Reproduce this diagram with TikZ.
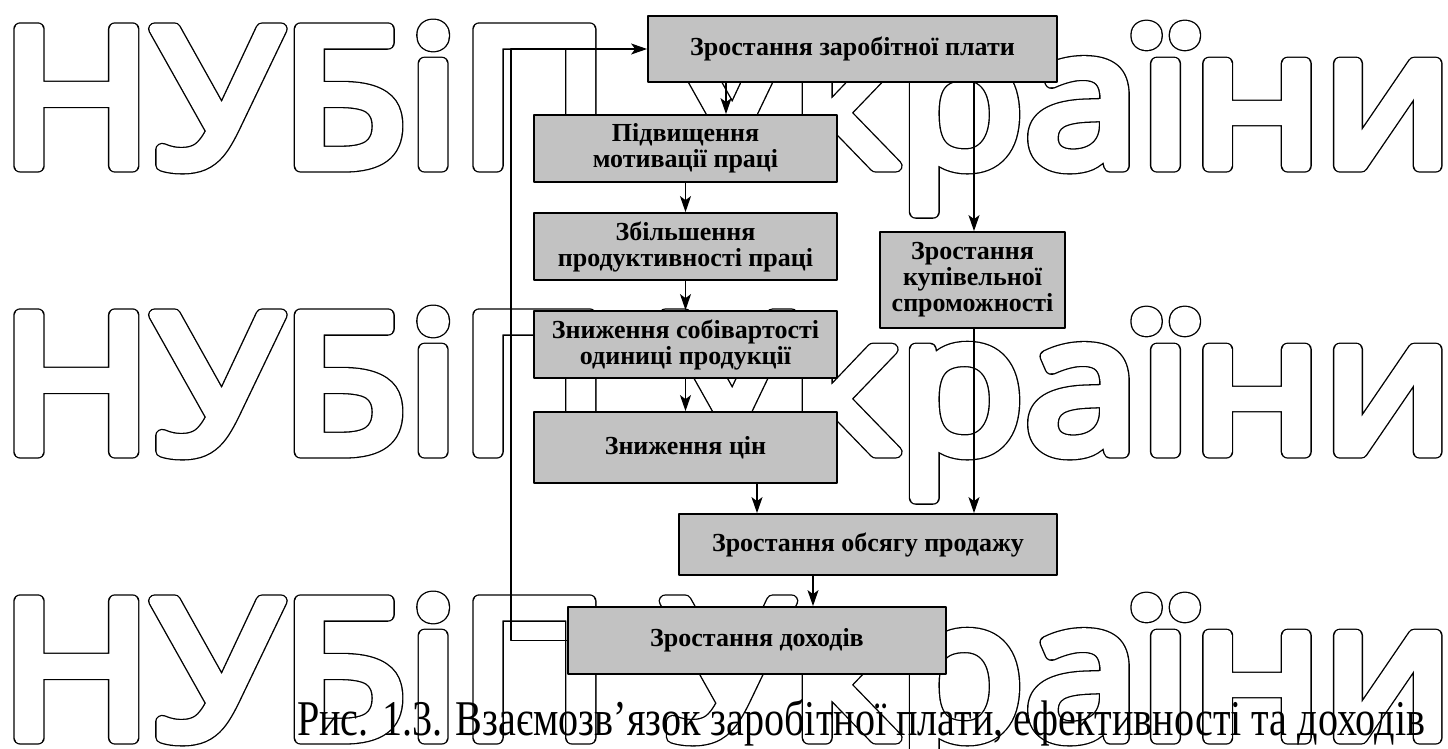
\documentclass[tikz,border=0pt]{standalone}
\usepackage{fontspec}
\setmainfont{Liberation Serif}
\newfontfamily\wmfont{Open Sans}
\usetikzlibrary{arrows.meta}
\definecolor{sirij}{HTML}{C2C2C2}
% outline letters of the watermark (thick black stroke, then white fill + stroke)
\newcommand{\kontur}[1]{%
  \rlap{\special{pdf:literal direct 1 Tr 1 j 1 J 0 G 13.3 w}#1}%
  \special{pdf:literal direct 2 Tr 1 g 1 G 10.7 w}#1%
  \special{pdf:literal direct 0 Tr 0 g 0 G 1 w}}
\tikzset{
  blok/.style={draw, line width=1.8pt, fill=sirij, align=center, inner sep=0pt,
    font=\bfseries\fontsize{26}{26}\selectfont},
  strilka/.style={line width=1.3pt, ->},
  znak/.style={inner sep=0pt, anchor=base west, font=\wmfont\fontsize{192}{192}\selectfont}
}
\begin{document}
\begin{tikzpicture}[x=1pt, y=-1pt, line join=round, >={Stealth[length=16pt,width=11pt,inset=4pt]}]
\fill[white] (0,0) rectangle (1448,749);
\useasboundingbox (0,0) rectangle (1448,749);
\path
(511,0) coordinate (L)
(726,0) coordinate (X1)
(757,0) coordinate (X2)
(813,0) coordinate (X3)
(974,0) coordinate (X4)
;
%\draw[gray!50] (0,0) grid[step=100] (1448,749);
\foreach \r in {0,1,2}
  \node[znak] (wm\r) at (0,166+286*\r) {\resizebox{1453pt}{\height}{\kontur{НУБіП України}}};

\node[blok, minimum width=409pt, minimum height=66pt] (zp) at (852.5,49) {Зростання заробітної плати};
\node[blok, minimum width=303pt, minimum height=67pt] (mot) at (685.5,148.5) {Підвищення\\мотивації праці};
\node[blok, minimum width=303pt, minimum height=67pt] (prod) at (685.5,246.5) {Збільшення\\продуктивності праці};
\node[blok, minimum width=303pt, minimum height=67pt] (sob) at (685.5,344.5) {Зниження собівартості\\одиниці продукції};
\node[blok, minimum width=303pt, minimum height=71pt] (cin) at (685.5,447.5) {Зниження цін};
\node[blok, minimum width=185pt, minimum height=96pt] (kup) at (972.5,280) {Зростання\\купівельної\\спроможності};
\node[blok, minimum width=378pt, minimum height=61pt] (obs) at (868,544.5) {Зростання обсягу продажу};
\node[blok, minimum width=378pt, minimum height=67pt] (doh) at (757,640.5) {Зростання доходів};

\draw[strilka] (zp.south -| X1) -- (mot.north -| X1);
\foreach \a/\b in {mot/prod, prod/sob, sob/cin}
  \draw[strilka] (\a) -- (\b);
\draw[strilka] (zp.south -| X4) -- (kup.north -| X4);
\draw[strilka] (cin.south -| X2) -- (obs.north -| X2);
\draw[strilka] (kup.south -| X4) -- (obs.north -| X4);
\draw[strilka] (obs.south -| X3) -- (doh.north -| X3);
\draw[strilka] (doh.west) -- (doh.west -| L) |- (zp.west);

\node[inner sep=0pt, anchor=base west, font=\fontsize{50}{60}\selectfont] (cap) at (297,735)
  {\resizebox{1128pt}{\height}{Рис. 1.3. Взаємозв’язок заробітної плати, ефективності та доходів}};
\end{tikzpicture}
\end{document}
